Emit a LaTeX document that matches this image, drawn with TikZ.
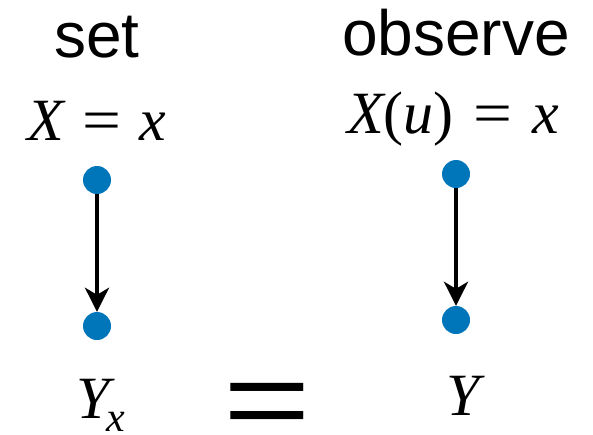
\documentclass[tikz,border=0pt]{standalone}
\usepackage{fontspec}
\setmainfont{Liberation Serif}
\newfontfamily\hv{Liberation Sans}
\usetikzlibrary{arrows.meta}
\definecolor{dotblue}{RGB}{0,118,186}
\newcommand{\meq}{\scalebox{1.15}[1]{=}}
\tikzset{
  dotnode/.style={circle,fill=dotblue,draw=none,minimum size=28pt,inner sep=0pt},
  conn/.style={line width=4pt,-{Stealth[length=24pt,width=24pt,inset=7pt]}},
  head/.style={anchor=base,inner sep=0pt,font=\hv\fontsize{64}{76}\selectfont},
  mth/.style={anchor=base,inner sep=0pt,font=\fontsize{60}{72}\selectfont}
}
\begin{document}
\begin{tikzpicture}[x=1pt,y=-1pt]
\useasboundingbox (0,0) rectangle (593,434);
\node[head] (set) at (97,57) {set};
\node[head] (obs) at (456,55) {observe};
\node[mth] (xeq) at (97,140) {\itshape X\upshape\hspace{0.3em}\meq\hspace{0.3em}\itshape x};
\node[mth] (xueq) at (453,133) {\itshape X\upshape(\itshape u\upshape)\hspace{0.33em}\meq\hspace{0.33em}\itshape x};
\node[dotnode] (a1) at (97,180) {};
\node[dotnode] (b1) at (97,326) {};
\node[dotnode] (a2) at (456,174) {};
\node[dotnode] (b2) at (456,320) {};
\draw[conn] (a1.south) -- (b1.north);
\draw[conn] (a2.south) -- (b2.north);
\node[mth] (yx) at (101,418) {\itshape Y\kern-4pt\smash{\raisebox{-13pt}{\fontsize{42}{50}\selectfont x}}};
\node[mth] (y) at (463,415) {\itshape Y};
\node[anchor=base,inner sep=0pt,font=\hv\fontsize{150}{160}\selectfont] (eq) at (267.5,428.9) {\smash{\raisebox{-10pt}{\scalebox{1}[0.75]{=}}}};
\end{tikzpicture}
\end{document}
